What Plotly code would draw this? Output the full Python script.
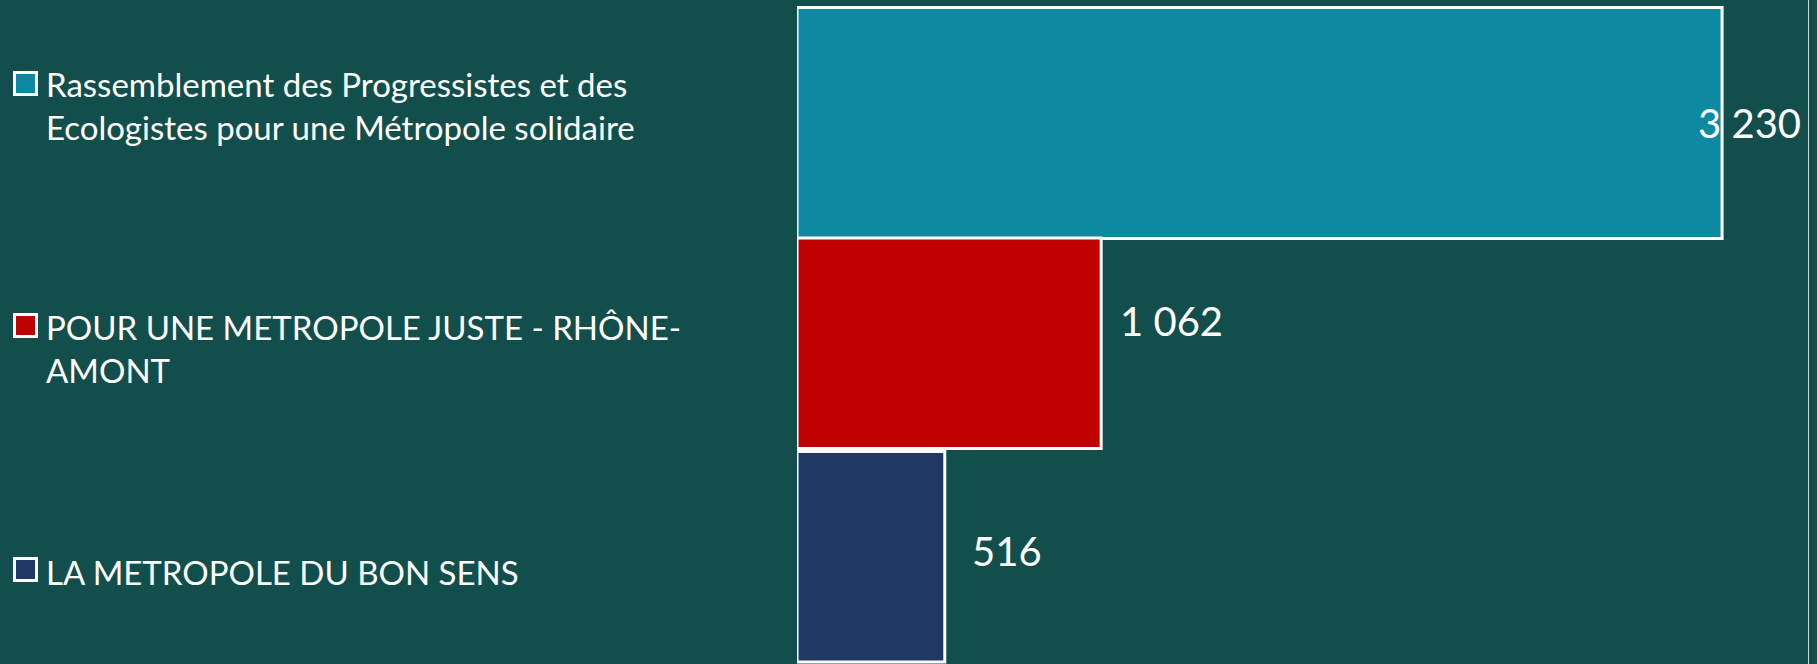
import plotly.graph_objects as go

# ---- data ----
categories = [
    "Rassemblement des Progressistes et des Ecologistes pour une Métropole solidaire",
    "POUR UNE METROPOLE JUSTE - RHÔNE-AMONT",
    "LA METROPOLE DU BON SENS",
]
legend_labels = [
    "Rassemblement des Progressistes et des<br>Ecologistes pour une Métropole solidaire",
    "POUR UNE METROPOLE JUSTE - RHÔNE-<br>AMONT",
    "LA METROPOLE DU BON SENS",
]
votes = [3230, 1062, 516]

# ---- style ----
colors = ["#0d89a1", "#c00000", "#203864"]
bg = "#124f4c"
bar_widths = [1.082, 0.987, 0.987]
bar_offsets = [-0.5726, -0.4935, -0.4935]
swatch_centers = [83, 325, 569]       # px from top
legend_block_mid = [106, 348, 572]    # px from top (text block middle)
label_xshift = [-26, 17, 25]
label_yshift = [7, 22, 6]

W, H = 1817, 664
ML, MR = 797, 9
plot_w = W - ML - MR


def px_x(p):
    return (p - ML) / plot_w


def px_y(p):
    return 1 - p / H


fig = go.Figure()
for i, (cat, lab, v) in enumerate(zip(categories, legend_labels, votes)):
    fig.add_trace(go.Bar(
        x=[v], y=[cat], orientation="h", name=lab.replace("<br>", " "),
        width=[bar_widths[i]], offset=[bar_offsets[i]],
        marker=dict(color=colors[i], line=dict(color="white", width=3)),
        showlegend=False,
        hovertemplate="%{y}: %{x}<extra></extra>",
    ))

# value labels
for i, v in enumerate(votes):
    fig.add_annotation(
        x=v, y=categories[i], xref="x", yref="y",
        text=f"{v:,}".replace(",", " "),
        showarrow=False, xanchor="left", yanchor="middle",
        xshift=label_xshift[i], yshift=label_yshift[i],
        font=dict(family="Lato, sans-serif", size=40, color="white"),
    )

# legend (swatch + text) on the left
for i, lab in enumerate(legend_labels):
    fig.add_annotation(
        x=px_x(25), y=px_y(swatch_centers[i]), xref="paper", yref="paper",
        text=" ", showarrow=False, xanchor="center", yanchor="middle",
        width=19, height=19, bgcolor=colors[i], bordercolor="white",
        borderwidth=3, borderpad=0, font=dict(size=4),
    )
    fig.add_annotation(
        x=px_x(44), y=px_y(legend_block_mid[i]), xref="paper", yref="paper",
        text=lab, showarrow=False, xanchor="left", yanchor="middle", align="left",
        font=dict(family="Lato, sans-serif", size=33, color="white"),
    )

# axis ranges from pixel geometry
D = 213.5
c0 = 129.75
y_top = (0 - c0) / D
y_bot = (H - c0) / D
px_per_unit = 0.2864

fig.update_layout(
    width=W, height=H,
    margin=dict(l=ML, r=MR, t=0, b=0),
    paper_bgcolor=bg, plot_bgcolor=bg,
    barmode="overlay",
    showlegend=False,
    xaxis=dict(range=[0, plot_w / px_per_unit], showgrid=False, zeroline=False,
               showticklabels=False, ticks=""),
    yaxis=dict(categoryorder="array", categoryarray=categories,
               range=[y_bot, y_top], showgrid=False, zeroline=False,
               showticklabels=False, ticks="", showline=True, side="right",
               linecolor="#d0d8d7", linewidth=1),
)

fig.write_html(
    "out.html",
    config={"displayModeBar": False},
    post_script="document.body.style.margin='0';document.body.style.background='" + bg + "';",
)
